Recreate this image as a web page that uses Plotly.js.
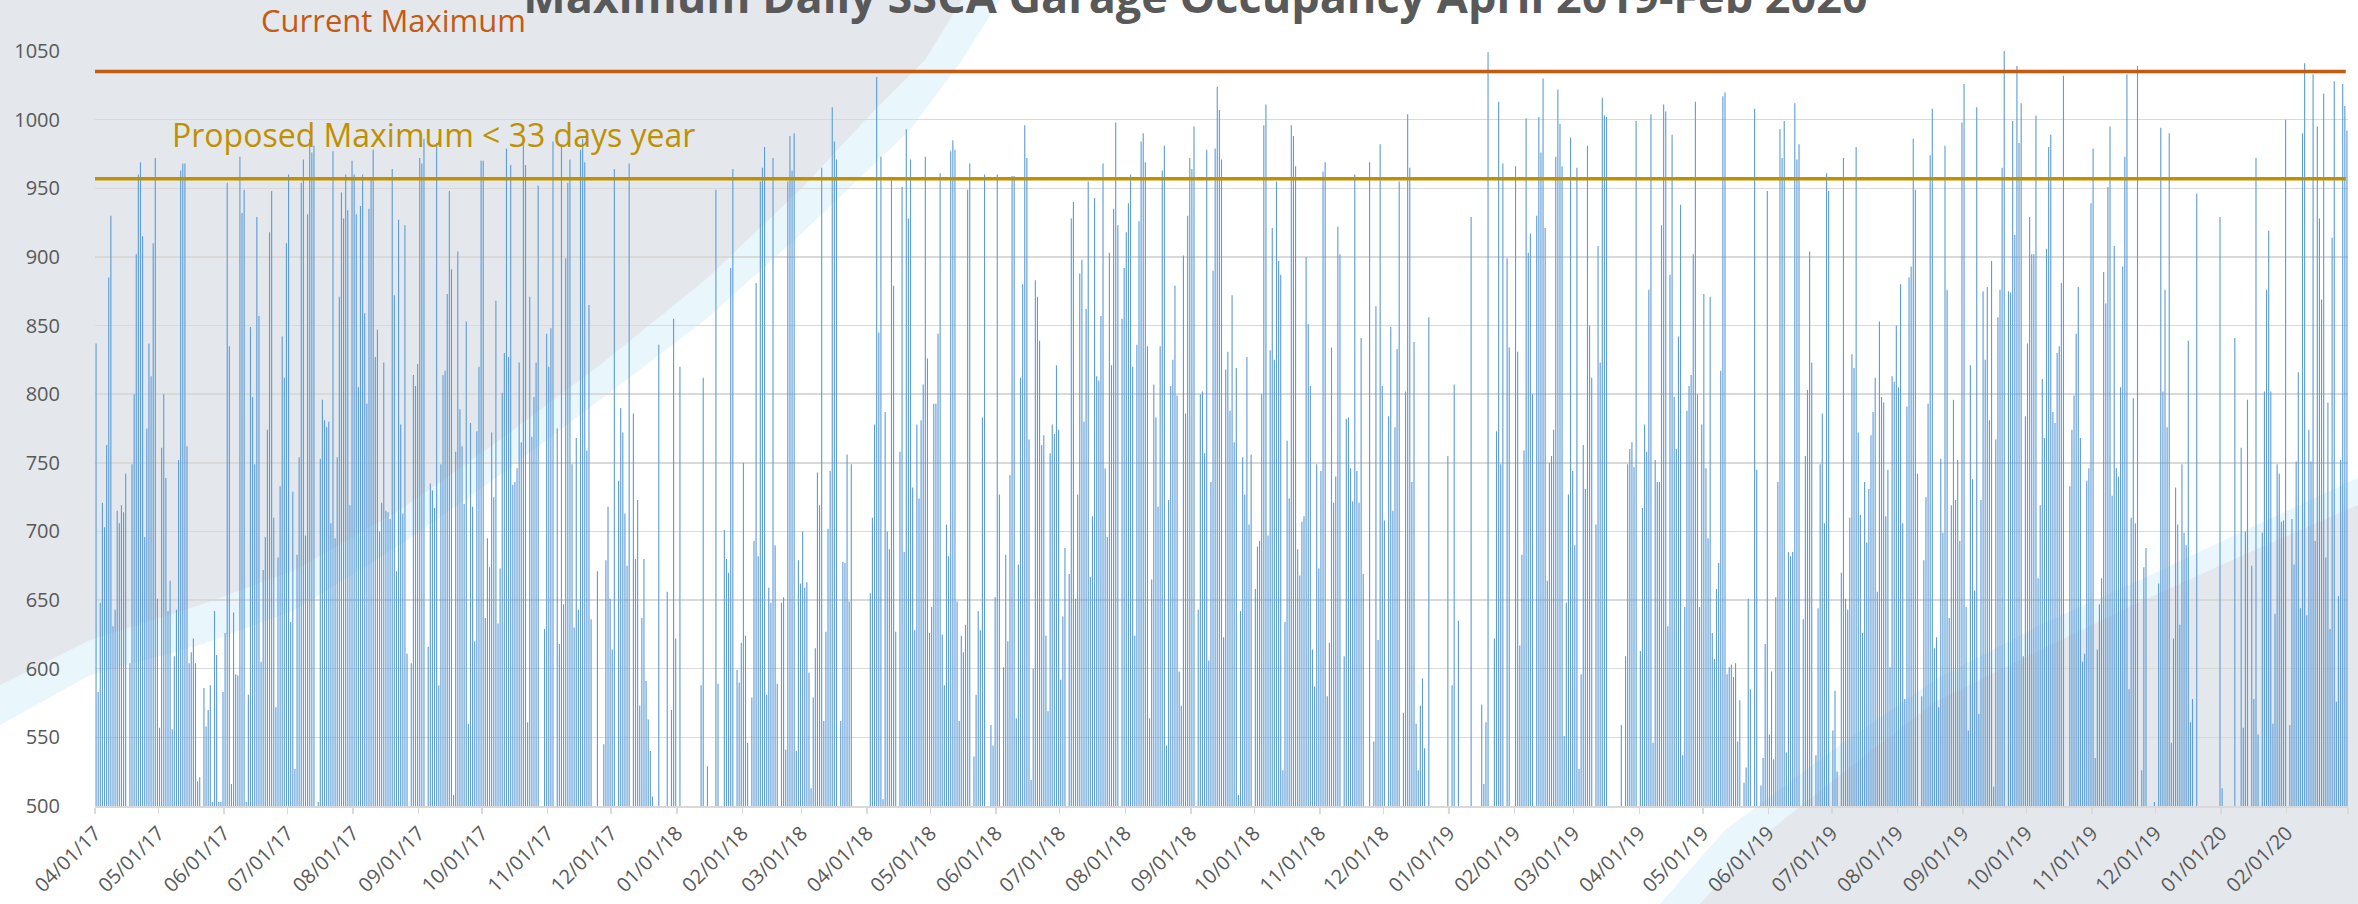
<!DOCTYPE html>
<html><head><meta charset="utf-8">
<script src="https://cdn.plot.ly/plotly-3.0.1.min.js"></script>
<style>html,body{margin:0;padding:0;background:#fff;}#chart{width:2358px;height:904px;}</style>
</head><body><div id="chart"></div>
<script>
// Daily maximum garage occupancy, one array per month (450 = below the 500 axis floor)
const apr17 = [837,583,648,721,703,763,885,930,631,643,715,706,719,714,742,450,604,749,800,902,960,969,915,696,775,837,813,910,972,651];
const may17 = [557,761,800,739,642,664,556,609,643,752,963,968,968,762,604,612,622,604,518,521,450,586,558,570,588,503,642,610,503,503,583];
const jun17 = [626,954,835,516,641,596,595,973,932,949,503,581,849,798,749,929,857,605,672,696,774,918,948,710,572,681,733,842,812,910];
const jul17 = [960,634,729,527,683,754,954,971,697,931,986,976,981,450,503,753,796,781,776,780,706,977,695,754,871,947,928,960,934,719,970];
const aug17 = [960,931,805,937,960,859,793,935,957,978,827,847,700,721,823,715,714,709,964,872,671,927,778,713,923,611,450,604,814,806,822];
const sep17 = [972,968,986,450,616,735,730,717,983,588,749,814,817,873,948,891,508,758,904,789,762,720,853,560,779,718,620,773,820,970];
const oct17 = [970,637,695,674,772,725,868,633,673,801,830,979,827,967,734,736,746,823,765,983,967,561,871,769,798,823,952,450,450,629,844];
const nov17 = [820,848,984,450,775,618,982,647,899,954,971,749,630,768,643,978,986,969,759,865,636,450,450,671,450,450,545,679,718,651];
const dec17 = [614,964,450,737,790,772,713,675,968,450,786,680,723,573,637,680,591,563,540,507,450,450,836,450,450,450,656,450,570,855,622];
const jan18 = [450,820,450,450,450,450,450,450,450,450,450,588,812,450,529,450,450,450,949,589,450,450,701,680,670,892,964,450,599,590,619];
const feb18 = [750,624,546,450,579,693,881,682,955,965,980,581,659,648,972,690,589,450,648,652,541,955,988,963,990,540,679,662];
const mar18 = [700,659,663,597,513,579,615,743,719,965,562,627,702,744,1009,984,971,450,562,678,677,756,649,749,450,450,450,450,450,450,450];
const apr18 = [450,655,710,778,1031,845,973,505,787,700,687,956,879,627,450,758,951,685,993,928,971,732,628,778,724,781,807,973,826,626];
const may18 = [645,793,793,844,961,625,588,705,682,977,985,978,649,562,624,612,632,949,968,450,536,581,642,628,783,960,450,450,559,544,652];
const jun18 = [960,727,450,601,683,620,741,959,959,564,676,812,880,996,972,767,519,600,883,871,839,763,770,624,569,757,778,771,821,774];
const jul18 = [592,638,688,450,669,928,940,651,727,888,898,780,862,955,667,711,943,813,810,857,968,746,696,903,821,935,998,923,450,855,892];
const aug18 = [918,939,960,820,624,836,926,984,990,969,835,564,665,807,783,718,835,963,981,544,723,806,825,879,799,598,573,901,786,930,972];
const sep18 = [964,995,450,643,800,802,757,978,606,736,890,979,1024,1007,971,623,818,831,788,872,765,819,508,642,754,727,827,705,756,450];
const oct18 = [658,689,693,800,996,1011,697,832,921,825,955,897,887,526,634,766,724,996,988,966,687,668,707,711,900,851,806,614,587,749,673];
const nov18 = [744,962,969,580,619,834,721,740,922,902,450,609,782,783,746,722,960,744,721,841,669,450,450,969,450,547,864,621,982,806];
const dec18 = [708,450,784,849,715,776,833,955,450,568,802,1004,965,736,838,560,526,573,593,542,450,856,450,450,450,450,450,450,450,450,755];
const jan19 = [450,588,807,450,635,450,450,450,450,450,929,450,450,450,450,574,516,561,1049,450,450,622,773,1013,749,968,450,899,834,450,450];
const feb19 = [966,831,617,683,759,1001,903,917,800,450,930,1002,976,1030,921,664,750,755,774,973,1022,997,966,551,648,727,987,744];
const mar19 = [690,965,527,596,763,731,981,850,812,450,705,908,823,1016,1003,1002,450,450,450,450,450,450,559,450,609,749,760,765,747,999,450];
const apr19 = [613,717,778,758,876,1004,546,752,736,736,923,1011,1006,631,887,989,798,760,842,938,537,645,788,806,814,902,1013,800,645,778];
const may19 = [873,746,695,871,626,607,658,677,817,1017,1020,596,601,603,594,604,547,577,450,517,528,651,585,450,1008,745,450,515,535,618,948];
const jun19 = [552,598,534,652,736,993,972,999,539,685,682,685,1012,971,982,450,636,755,803,904,823,450,537,644,749,786,706,961,948,450];
const jul19 = [555,584,525,450,670,972,651,643,710,829,819,980,772,712,626,736,692,731,770,787,812,656,853,798,794,711,745,601,813,809,850];
const aug19 = [805,880,706,578,791,885,893,986,949,742,450,580,679,725,793,974,1008,615,623,572,753,699,981,876,637,719,796,723,752,693,998];
const sep19 = [1026,645,555,821,738,657,1009,567,723,875,825,878,781,897,514,767,856,876,965,1050,450,875,874,999,916,1039,983,1012,609,784];
const oct19 = [837,929,902,902,1003,666,719,811,768,906,980,989,787,779,830,835,881,1032,450,450,733,774,799,844,878,768,605,611,737,746,939];
const nov19 = [979,535,614,647,666,889,866,951,995,726,908,746,740,805,893,973,1033,585,710,797,706,1039,450,526,674,688,450,450,450,503];
const dec19 = [450,662,994,802,876,776,990,546,622,732,705,632,749,699,690,839,561,578,450,946,450,450,450,450,450,450,450,450,450,450,929];
const jan20 = [513,450,450,450,450,450,841,450,450,761,557,700,796,450,675,578,972,552,450,699,802,876,919,802,560,640,749,742,707,708,1000];
const feb20 = [450,559,709,676,751,816,644,990,1041,639,774,751,1033,693,995,928,869,1019,681,794,629,914,1028,576,653,752,1026,1010,992];

const monthKeys = ['2017-04','2017-05','2017-06','2017-07','2017-08','2017-09','2017-10','2017-11','2017-12',
  '2018-01','2018-02','2018-03','2018-04','2018-05','2018-06','2018-07','2018-08','2018-09','2018-10','2018-11','2018-12',
  '2019-01','2019-02','2019-03','2019-04','2019-05','2019-06','2019-07','2019-08','2019-09','2019-10','2019-11','2019-12',
  '2020-01','2020-02'];
const monthValues = [apr17,may17,jun17,jul17,aug17,sep17,oct17,nov17,dec17,
  jan18,feb18,mar18,apr18,may18,jun18,jul18,aug18,sep18,oct18,nov18,dec18,
  jan19,feb19,mar19,apr19,may19,jun19,jul19,aug19,sep19,oct19,nov19,dec19,
  jan20,feb20];

const CURRENT_MAX = 1035;
const PROPOSED_MAX = 957;
const TITLE = 'Maximum Daily SSCA Garage Occupancy April 2019-Feb 2020';
const LABEL_CURRENT = 'Current Maximum';
const LABEL_PROPOSED = 'Proposed Maximum < 33 days year';

const xs = [], ys = [];
monthKeys.forEach((mk, mi) => {
  monthValues[mi].forEach((v, di) => {
    xs.push(mk + '-' + String(di + 1).padStart(2, '0') + ' 12:00');
    ys.push(v);
  });
});

// decorative slide background (pixel -> paper conversion)
const L = 95, T = 51, W = 2253, H = 755;
function pp(px, py) { return ((px - L) / W).toFixed(4) + ',' + ((T + H - py) / H).toFixed(4); }
function poly(pts) { return 'M' + pts.map(p => pp(p[0], p[1])).join(' L') + ' Z'; }
const bandUL = [[0,0],[1000,0],[962,60],[910,130],[800,235],[705,320],[600,400],[500,475],[400,545],[295,610],[200,645],[90,675],[0,725]];
const grayUL = [[0,0],[962,0],[925,60],[870,115],[800,190],[705,280],[600,365],[500,440],[400,510],[295,570],[200,605],[90,640],[0,685]];
const bandLR = [[1660,904],[1725,830],[1830,752],[1935,680],[2040,625],[2140,580],[2250,528],[2358,478],[2358,904]];
const grayLR = [[1700,904],[1758,840],[1850,767],[1935,702],[2040,650],[2140,602],[2250,552],[2358,505],[2358,904]];

const shapes = [
  {type:'path', xref:'paper', yref:'paper', layer:'below', path:poly(bandUL), fillcolor:'#E9F6FC', line:{width:0}},
  {type:'path', xref:'paper', yref:'paper', layer:'below', path:poly(grayUL), fillcolor:'#E4E8EC', line:{width:0}},
  {type:'path', xref:'paper', yref:'paper', layer:'below', path:poly(bandLR), fillcolor:'#E9F6FC', line:{width:0}},
  {type:'path', xref:'paper', yref:'paper', layer:'below', path:poly(grayLR), fillcolor:'#E4E8EC', line:{width:0}},
  {type:'line', xref:'paper', x0:0, x1:0.999, yref:'y', y0:CURRENT_MAX, y1:CURRENT_MAX, line:{color:'#C55A11', width:3.5}},
  {type:'line', xref:'paper', x0:0, x1:0.999, yref:'y', y0:PROPOSED_MAX, y1:PROPOSED_MAX, line:{color:'#BF9000', width:3.5}}
];

const trace = {
  type:'bar', x:xs, y:ys,
  marker:{color:'#5E9DD7', line:{width:0}},
  hoverinfo:'skip'
};

const layout = {
  width:2358, height:904,
  margin:{l:L, r:2358 - L - W, t:T, b:904 - T - H, pad:0},
  paper_bgcolor:'#ffffff', plot_bgcolor:'rgba(0,0,0,0)',
  bargap:0.47,
  showlegend:false,
  font:{family:'Open Sans', color:'#595959'},
  title:{text:TITLE, font:{family:'Open Sans', size:45, color:'#595959', weight:'bold'},
         xref:'container', x:0.507, xanchor:'center', yref:'container', y:0.9856, yanchor:'bottom'},
  xaxis:{type:'date', range:['2017-04-01','2020-03-01'], tick0:'2017-04-01', dtick:'M1',
         tickformat:'%m/%d/%y', tickangle:-45, showgrid:false, zeroline:false,
         showline:true, linecolor:'#D9D9D9', linewidth:1.5,
         ticks:'outside', ticklen:6, tickcolor:'#D9D9D9', tickwidth:1.5,
         tickfont:{family:'Open Sans', size:20, color:'#595959'}},
  yaxis:{range:[500,1050], tick0:500, dtick:50, showgrid:true, gridcolor:'#D9D9D9', gridwidth:1.5,
         zeroline:false, showline:false, ticks:'', ticklabelstandoff:34,
         tickfont:{family:'Open Sans', size:20, color:'#595959'}},
  shapes:shapes,
  annotations:[
    {text:LABEL_CURRENT, xref:'paper', yref:'paper', x:(259 - L) / W, y:(T + H - 20) / H,
     xanchor:'left', yanchor:'middle', showarrow:false,
     font:{family:'Open Sans', size:31, color:'#C55A11'}},
    {text:LABEL_PROPOSED, xref:'paper', yref:'paper', x:(170 - L) / W, y:(T + H - 134) / H,
     xanchor:'left', yanchor:'middle', showarrow:false,
     font:{family:'Open Sans', size:32, color:'#BF9000'}}
  ]
};

Plotly.newPlot('chart', [trace], layout, {staticPlot:true, displayModeBar:false});
</script></body></html>
